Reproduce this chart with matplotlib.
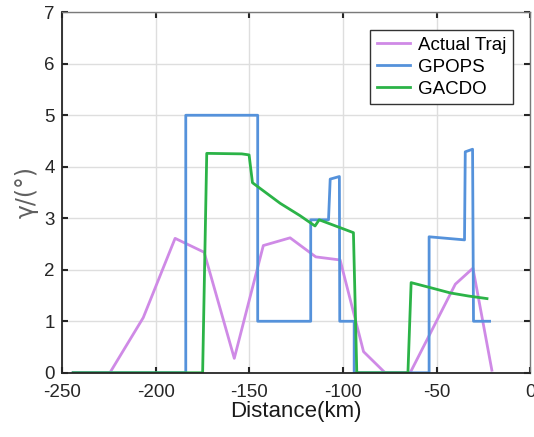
import matplotlib
matplotlib.use("Agg")
import matplotlib.pyplot as plt

plt.rcParams['font.family'] = ['Liberation Sans', 'DejaVu Sans']
plt.rcParams['axes.unicode_minus'] = False

# Actual trajectory
actual_x = [-244, -224.4, -206.6, -189.6, -174.1, -158.0, -142.5, -128.2, -114.5,
            -101.5, -89.0, -77.5, -64.1, -40.0, -30.6, -20.5]
actual_y = [0, 0, 1.07, 2.61, 2.34, 0.28, 2.47, 2.62, 2.25,
            2.19, 0.41, 0, 0, 1.72, 2.03, 0.05]

# GPOPS
gpops_x = [-244, -183.9, -183.9, -145.5, -145.5, -117.2, -117.2, -107.7, -106.8,
           -101.9, -101.7, -94.0, -94.0, -54.0, -54.0, -35.1, -34.7, -30.8, -30.3, -21.7]
gpops_y = [0, 0, 5.0, 5.0, 1.0, 1.0, 2.97, 2.97, 3.76,
           3.81, 1.0, 1.0, 0, 0, 2.64, 2.58, 4.29, 4.34, 1.0, 1.0]

# GACDO
gacdo_x = [-244, -174.9, -172.7, -154.0, -150.1, -148.3, -133.5, -122.9, -114.9,
           -112.7, -94.4, -92.6, -65.3, -63.6, -52.0, -42.7, -33.0, -23.1]
gacdo_y = [0, 0, 4.26, 4.25, 4.23, 3.69, 3.29, 3.05, 2.85,
           2.97, 2.72, 0, 0, 1.75, 1.64, 1.55, 1.49, 1.44]

fig = plt.figure(figsize=(5.34, 4.37), dpi=100)
ax = fig.add_axes([0.116, 0.147, 0.877, 0.825])

ax.plot(actual_x, actual_y, color='#CF8AE6', lw=2, label='Actual Traj')
ax.plot(gpops_x, gpops_y, color='#5592DB', lw=2, label='GPOPS')
ax.plot(gacdo_x, gacdo_y, color='#2BB347', lw=2, label='GACDO')

ax.set_xlim(-250, 0)
ax.set_ylim(0, 7)
ax.set_xticks([-250, -200, -150, -100, -50, 0])
ax.set_yticks(range(0, 8))
ax.grid(True, color='#DEDEDE', lw=1)
ax.set_axisbelow(True)
ax.tick_params(direction='in', top=True, right=True, labelsize=13.5, length=4,
               width=1.5, colors='#262626')
ax.tick_params(axis='x', pad=8)
ax.tick_params(axis='y', pad=5)
for side in ['left', 'bottom']:
    ax.spines[side].set_color('#262626')
    ax.spines[side].set_linewidth(1.3)
for side in ['top', 'right']:
    ax.spines[side].set_color('#7A7A7A')
    ax.spines[side].set_linewidth(1.0)

ax.set_xlabel('Distance(km)', fontsize=16, color='#1A1A1A', labelpad=0)
ax.set_ylabel('γ/(°)', fontsize=17, color='#606060', labelpad=4,
              family=['DejaVu Sans'])

leg = ax.legend(loc='upper right', bbox_to_anchor=(0.963, 0.95), fontsize=13.5,
                fancybox=False, edgecolor='#333333', framealpha=1,
                handlelength=1.8, handletextpad=0.4, borderpad=0.35,
                labelspacing=0.25, borderaxespad=0)
leg.get_frame().set_linewidth(1.0)

fig.savefig('out.png', dpi=100)
